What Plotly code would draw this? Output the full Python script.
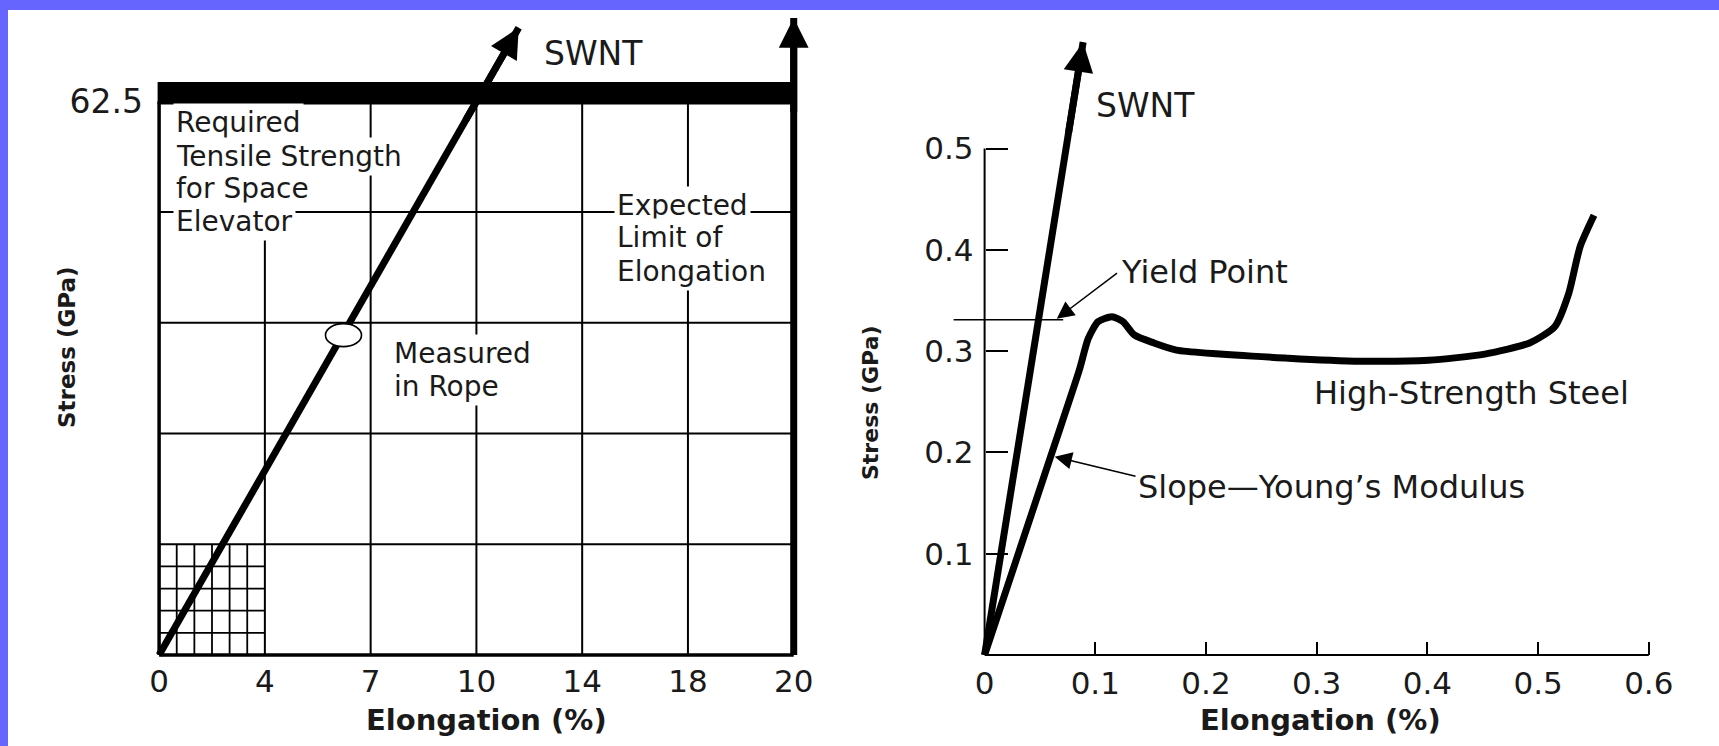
import numpy as np
import plotly.graph_objects as go

W, H = 1719, 746

# ---------------- data: left panel (space-elevator requirement) ----------------
left_tick_values = [0, 4, 7, 10, 14, 18, 20]          # elongation (%), schematic evenly spaced ticks
left_tick_labels = ["0", "4", "7", "10", "14", "18", "20"]
required_strength = 62.5                              # GPa
left_grid_step = 12.5                                 # GPa per major grid row
fine_box = [4, 12.5]                                  # fine grid extent (elongation %, GPa)
fine_divs = [6, 5]
swnt_left_elong = [0, 11.6]
swnt_left_stress = [0, 70.8]
rope_elong = [6.23]
rope_stress = [36.1]
limit_elong = [20, 20]
limit_stress = [0, 71.9]

# ---------------- data: right panel (SWNT vs high-strength steel) ----------------
right_tick_values = [0, 0.1, 0.2, 0.3, 0.4, 0.5, 0.6]
right_tick_labels = ["0", "0.1", "0.2", "0.3", "0.4", "0.5", "0.6"]
right_ytick_values = [0.1, 0.2, 0.3, 0.4, 0.5]
right_ytick_labels = ["0.1", "0.2", "0.3", "0.4", "0.5"]
swnt_right_elong = [0, 0.089]
swnt_right_stress = [0, 0.605]
steel_elong = [0, 0.06, 0.0855, 0.0935, 0.1024, 0.115, 0.1251, 0.1352, 0.153, 0.1733,
               0.2745, 0.3404, 0.4011, 0.4518, 0.4923, 0.515, 0.5277, 0.5379, 0.5505]
steel_stress = [0, 0.197, 0.281, 0.312, 0.329, 0.334, 0.329, 0.316, 0.308, 0.301,
                0.293, 0.290, 0.291, 0.297, 0.308, 0.324, 0.357, 0.403, 0.434]
yield_elong = [-0.028, 0.071]
yield_stress = [0.331, 0.331]

FONT = "DejaVu Sans"
INK = "#1a1a1a"


def lx(v):
    return np.interp(v, left_tick_values, np.arange(len(left_tick_values)))


def px(x):
    return x / W


def py(y):
    return 1 - y / H


# layout geometry (pixels)
L_X0, L_XU = 159.1, 105.77          # left: px of index 0, px per index
L_Y0, L_YU = 655.0, 110.75 / 12.5   # left: px of 0 GPa, px per GPa
R_X0, R_XU = 984.6, 1107.0
R_Y0, R_YU = 655.0, 1013.0

lxr = [-0.6, 6.6]
lyr = [-4, 73]
rxr = [-0.06, 0.64]
ryr = [-0.05, 0.64]

fig = go.Figure()
ann = []


def arrow_line(x, y, xa, ya):
    x = [float(v) for v in x]
    y = [float(v) for v in y]
    fig.add_trace(go.Scatter(
        x=x, y=y, mode="lines", line=dict(color="#000000", width=7),
        xaxis=xa, yaxis=ya, hoverinfo="skip"))
    # arrowhead only: short arrow along the last segment, ending at the tip
    t = 0.85
    ann.append(dict(xref=xa, yref=ya, axref=xa, ayref=ya, x=x[-1], y=y[-1],
                    ax=x[-2] + t * (x[-1] - x[-2]), ay=y[-2] + t * (y[-1] - y[-2]),
                    text="", showarrow=True, arrowhead=2, arrowsize=0.85, arrowwidth=7,
                    arrowcolor="#000000", standoff=0, startstandoff=0))


# ---- left traces
arrow_line(lx(swnt_left_elong), swnt_left_stress, "x", "y")
arrow_line(lx(limit_elong), limit_stress, "x", "y")

# ---- right traces
arrow_line(swnt_right_elong, swnt_right_stress, "x2", "y2")
fig.add_trace(go.Scatter(
    x=steel_elong, y=steel_stress, mode="lines",
    line=dict(color="#000000", width=7, shape="spline", smoothing=0.6),
    xaxis="x2", yaxis="y2", hoverinfo="skip"))
fig.add_trace(go.Scatter(
    x=yield_elong, y=yield_stress, mode="lines",
    line=dict(color="#000000", width=1.6),
    xaxis="x2", yaxis="y2", hoverinfo="skip"))

shapes = []
# purple frame
shapes.append(dict(type="rect", xref="paper", yref="paper", x0=0, x1=1, y0=py(10), y1=1,
                   fillcolor="#6666ff", line=dict(width=0), layer="above"))
shapes.append(dict(type="rect", xref="paper", yref="paper", x0=0, x1=px(8), y0=0, y1=1,
                   fillcolor="#6666ff", line=dict(width=0), layer="above"))

n_cols = len(left_tick_values) - 1
n_rows = int(round(required_strength / left_grid_step))


def lline(x0, y0, x1, y1, w, layer="below"):
    shapes.append(dict(type="line", xref="x", yref="y", x0=x0, y0=y0, x1=x1, y1=y1,
                       line=dict(color="black", width=w), layer=layer))


# major grid
for i in range(1, n_cols):
    lline(i, 0, i, required_strength, 2)
for j in range(1, n_rows):
    lline(0, j * left_grid_step, n_cols, j * left_grid_step, 2)
# fine grid
fx = lx(fine_box[0])
for i in range(1, fine_divs[0]):
    lline(fx * i / fine_divs[0], 0, fx * i / fine_divs[0], fine_box[1], 1.8)
for j in range(1, fine_divs[1]):
    lline(0, fine_box[1] * j / fine_divs[1], fx, fine_box[1] * j / fine_divs[1], 1.8)

# white label backings that break the grid (pixel boxes)
for x0, x1, y0, y1 in [(168, 385, 107, 186), (168, 326, 186, 238), (598, 770, 185, 310),
                       (385, 535, 337, 408)]:
    shapes.append(dict(type="rect", xref="paper", yref="paper", x0=px(x0), x1=px(x1),
                       y0=py(y1), y1=py(y0), fillcolor="white", line=dict(width=0), layer="below"))

# frame
lline(0, 0, 0, required_strength, 3.5)
lline(0, 0, n_cols, 0, 3.5)
# required strength bar
shapes.append(dict(type="rect", xref="x", yref="y", x0=0, x1=n_cols,
                   y0=required_strength - 0.2, y1=required_strength + 2.0,
                   fillcolor="black", line=dict(color="black", width=3), layer="above"))
# measured-in-rope marker (open ellipse)
shapes.append(dict(type="circle", xref="x", yref="y", xsizemode="pixel", ysizemode="pixel",
                   xanchor=float(lx(rope_elong[0])), yanchor=rope_stress[0],
                   x0=-18, x1=18, y0=-11.5, y1=11.5,
                   fillcolor="white", line=dict(color="black", width=1.6), layer="above"))

# right axis lines
shapes.append(dict(type="line", xref="x2", yref="y2", x0=0, y0=0, x1=right_tick_values[-1], y1=0,
                   line=dict(color="black", width=2)))
shapes.append(dict(type="line", xref="x2", yref="y2", x0=0, y0=0, x1=0, y1=right_ytick_values[-1],
                   line=dict(color="black", width=2)))


def text(xp, yp, s, size, anchor="left", bg=None, angle=0, bold=False):
    d = dict(xref="paper", yref="paper", x=px(xp), y=py(yp), text=("<b>%s</b>" % s) if bold else s,
             showarrow=False, xanchor=anchor, yanchor="middle", textangle=angle,
             font=dict(family=FONT, size=size, color=INK), borderpad=2)
    if bg:
        d["bgcolor"] = bg
    ann.append(d)


# left annotations
for s, y in [("Required", 122.7), ("Tensile Strength", 156), ("for Space", 188.5), ("Elevator", 221.7)]:
    text(173, y, s, 28, bg="white")
for s, y in [("Expected", 205), ("Limit of", 237.5), ("Elongation", 271.7)]:
    text(614, y, s, 28, bg="white")
for s, y in [("Measured", 353.3), ("in Rope", 386.7)]:
    text(391, y, s, 28, bg="white")
text(541, 53.3, "SWNT", 33)

# right annotations
text(1093, 106, "SWNT", 33)
text(1118, 271.7, "Yield Point", 32)
text(1311, 393.3, "High-Strength Steel", 32)
text(1135, 486.7, "Slope\u2014Young\u2019s Modulus", 32)

# axis titles
text(486.8, 720, "Elongation (%)", 29, anchor="center", bold=True)
text(1320.7, 720, "Elongation (%)", 29, anchor="center", bold=True)
text(67, 347, "Stress (GPa)", 23, anchor="center", angle=-90, bold=True)
text(870, 403, "Stress (GPa)", 22, anchor="center", angle=-90, bold=True)

# callout arrows
ann.append(dict(xref="x2", yref="y2", axref="x2", ayref="y2", x=0.0652, y=0.332, ax=0.121, ay=0.378,
                text="", showarrow=True, arrowhead=2, arrowsize=2.3, arrowwidth=1.5, arrowcolor="black"))
ann.append(dict(xref="x2", yref="y2", axref="x2", ayref="y2", x=0.0633, y=0.1958, ax=0.1377, ay=0.176,
                text="", showarrow=True, arrowhead=2, arrowsize=2.3, arrowwidth=1.5, arrowcolor="black"))

tickfont = dict(family=FONT, size=31, color=INK)

fig.update_layout(
    width=W, height=H, margin=dict(l=0, r=0, t=0, b=0),
    paper_bgcolor="white", plot_bgcolor="rgba(0,0,0,0)", showlegend=False,
    shapes=shapes, annotations=ann,
    xaxis=dict(domain=[px(L_X0 + lxr[0] * L_XU), px(L_X0 + lxr[1] * L_XU)], range=lxr,
               anchor="free", position=py(L_Y0), tickvals=list(range(len(left_tick_labels))),
               ticktext=left_tick_labels, ticks="", showgrid=False, zeroline=False, showline=False,
               tickfont=tickfont, ticklabelstandoff=5),
    yaxis=dict(domain=[py(L_Y0 - lyr[0] * L_YU), py(L_Y0 - lyr[1] * L_YU)], range=lyr,
               anchor="free", position=px(L_X0), tickvals=[required_strength], ticktext=["62.5"],
               ticks="", showgrid=False, zeroline=False, showline=False,
               tickfont=dict(family=FONT, size=33, color=INK), ticklabelstandoff=16),
    xaxis2=dict(domain=[px(R_X0 + rxr[0] * R_XU), px(R_X0 + rxr[1] * R_XU)], range=rxr,
                anchor="free", position=py(R_Y0), tickvals=right_tick_values,
                ticktext=right_tick_labels, ticks="inside", ticklen=13, tickwidth=2, tickcolor="black",
                showgrid=False, zeroline=False, showline=False, tickfont=tickfont, ticklabelstandoff=7),
    yaxis2=dict(domain=[py(R_Y0 - ryr[0] * R_YU), py(R_Y0 - ryr[1] * R_YU)], range=ryr,
                anchor="free", position=px(R_X0), tickvals=right_ytick_values,
                ticktext=right_ytick_labels, ticks="inside", ticklen=22, tickwidth=2, tickcolor="black",
                showgrid=False, zeroline=False, showline=False, tickfont=tickfont, ticklabelstandoff=11),
)

fig.write_html("out.html", config={"displayModeBar": False},
               post_script="document.body.style.margin='0';document.body.style.overflow='hidden';")
